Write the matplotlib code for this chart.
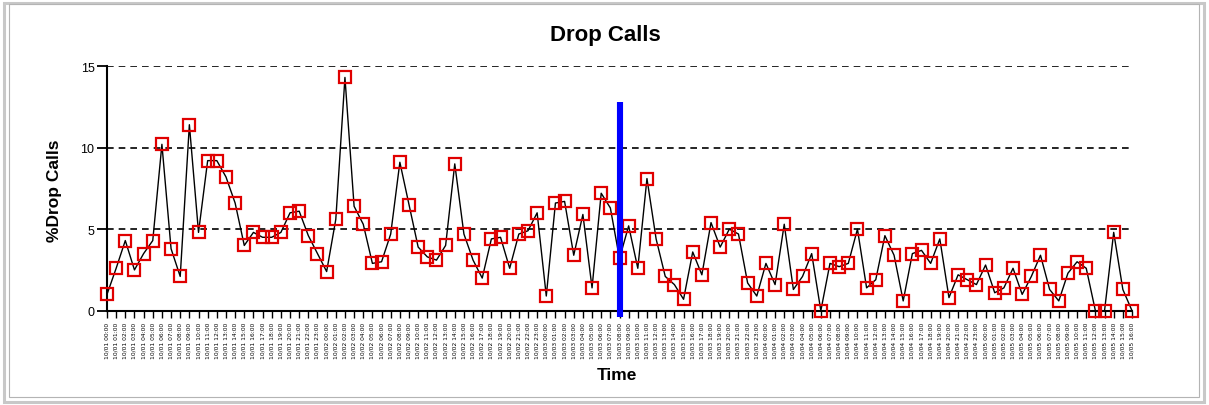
import matplotlib
matplotlib.use("Agg")
import matplotlib.pyplot as plt
from matplotlib.patches import Rectangle
import pandas as pd

# ---- data ----
drop_calls = [
    1.0, 2.6, 4.3, 2.5, 3.5, 4.3, 10.2, 3.8, 2.1, 11.4,
    4.8, 9.2, 9.2, 8.2, 6.6, 4.0, 4.8, 4.5, 4.5, 4.8,
    6.0, 6.1, 4.6, 3.5, 2.4, 5.6, 14.3, 6.4, 5.3, 2.9,
    3.0, 4.7, 9.1, 6.5, 3.9, 3.3, 3.1, 4.0, 9.0, 4.7,
    3.1, 2.0, 4.4, 4.5, 2.6, 4.7, 4.9, 6.0, 0.9, 6.6,
    6.7, 3.4, 5.9, 1.4, 7.2, 6.3, 3.2, 5.2, 2.6, 8.1,
    4.4, 2.1, 1.6, 0.7, 3.6, 2.2, 5.4, 3.9, 5.0, 4.7,
    1.7, 0.9, 2.9, 1.6, 5.3, 1.3, 2.1, 3.5, 0.0, 2.9,
    2.7, 2.9, 5.0, 1.4, 1.9, 4.6, 3.4, 0.6, 3.5, 3.7,
    2.9, 4.4, 0.8, 2.2, 1.9, 1.6, 2.8, 1.1, 1.4, 2.6,
    1.0, 2.1, 3.4, 1.3, 0.6, 2.3, 3.0, 2.6, 0.0, 0.0,
    4.8, 1.3, 0.0,
]
time_labels = list(pd.date_range("2008-10-01 00:00", periods=len(drop_calls), freq="h")
                   .strftime("%m/%d %H:%M"))
y_ticks = [0, 5, 10, 15]
event_index = 56
event_top = 12.8
event_bottom = -0.4

W, H = 1209, 406
fig = plt.figure(figsize=(W / 100, H / 100), dpi=100)
fig.patch.set_facecolor("white")

# outer frame
fig.patches.append(Rectangle((4 / W, 3 / H), (W - 9) / W, (H - 7) / H, transform=fig.transFigure,
                             fill=False, edgecolor="#c8c8c8", linewidth=2.2))
fig.patches.append(Rectangle((9 / W, 8 / H), (W - 19) / W, (H - 13) / H, transform=fig.transFigure,
                             fill=False, edgecolor="#b4b4b4", linewidth=0.8))

left, right, top, bottom = 107, 1132, 67, 311.7
ax = fig.add_axes([left / W, 1 - bottom / H, (right - left) / W, (bottom - top) / H])

x = list(range(len(drop_calls)))
ax.plot(x, drop_calls, color="black", linewidth=1.0, marker="s", markersize=9,
        markerfacecolor="none", markeredgecolor="#e00000", markeredgewidth=1.6,
        clip_on=False, zorder=3)

ax.vlines(event_index, event_bottom, event_top, colors="#0000ff", linewidth=4.4,
          zorder=4, clip_on=False)

ax.set_xlim(0, len(drop_calls) - 1)
ax.set_ylim(0, 15)

ax.set_yticks(y_ticks)
ax.set_yticklabels([str(t) for t in y_ticks], fontsize=9, family="Liberation Sans")
ax.set_xticks(x)
ax.set_xticklabels(time_labels, fontsize=4.3, family="DejaVu Sans", rotation=90)

ax.tick_params(axis="y", direction="out", length=7, width=1.3, pad=2)
ax.tick_params(axis="x", direction="out", length=5, width=1.0, pad=3)

for s in ["top", "right"]:
    ax.spines[s].set_visible(False)
for s in ["left", "bottom"]:
    ax.spines[s].set_linewidth(1.5)
    ax.spines[s].set_color("black")

ax.yaxis.grid(True, linestyle=(0, (4, 3)), color="black", linewidth=1.2)
ax.set_axisbelow(True)

fig.text(605 / W, 1 - 41 / H, "Drop Calls", ha="center", va="baseline",
         fontsize=16, fontweight="bold", family="Liberation Sans")
fig.text(617 / W, 1 - 380 / H, "Time", ha="center", va="baseline",
         fontsize=12.5, fontweight="bold", family="Liberation Sans")
fig.text(55 / W, 1 - 191 / H, "%Drop Calls", ha="center", va="center", rotation=90,
         fontsize=12.5, fontweight="bold", family="Liberation Sans")

fig.savefig("out.png", dpi=100)
